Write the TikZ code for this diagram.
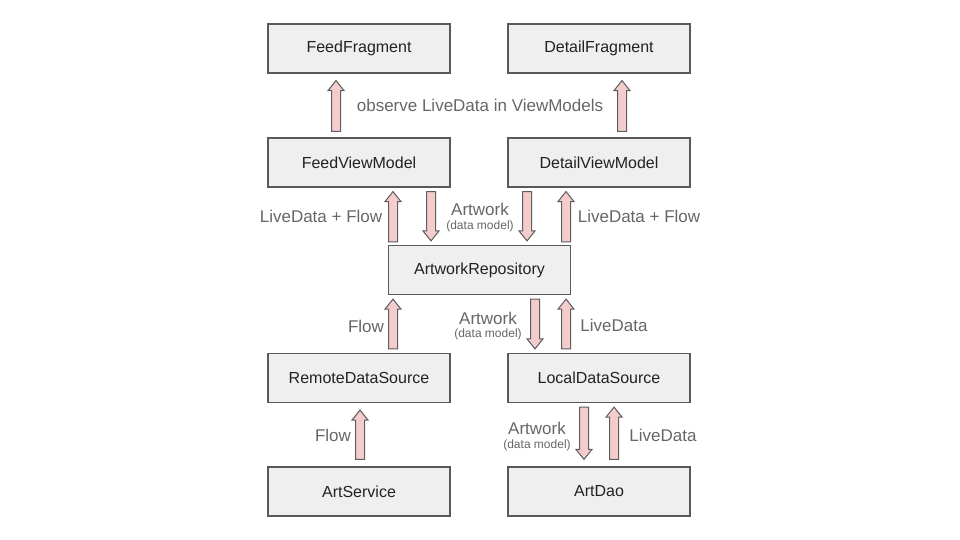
\documentclass[tikz,border=0pt]{standalone}
\usepackage{fontspec}
\setmainfont{Liberation Sans}
\usetikzlibrary{calc}
\definecolor{boxfill}{HTML}{EFEFEF}
\definecolor{boxline}{HTML}{595959}
\definecolor{boxtext}{HTML}{222222}
\definecolor{lbl}{HTML}{666666}
\definecolor{arrfill}{HTML}{F4CCCC}
\definecolor{arrline}{HTML}{5E5E5E}
\tikzset{
  box/.style={draw=boxline, line width=1.2pt, fill=boxfill, minimum width=182pt, minimum height=49pt, inner sep=0pt, text=boxtext, font=\fontsize{16}{19}\selectfont},
  lab/.style={text=lbl, inner sep=0pt, font=\fontsize{17}{20}\selectfont},
  sublab/.style={text=lbl, inner sep=0pt, font=\fontsize{12}{14}\selectfont},
  barrow/.style={draw=arrline, line width=1pt, fill=arrfill, line join=miter}
}
% #1 x, #2 tail anchor, #3 tail gap, #4 tip anchor, #5 tip gap
\newcommand\vblock[5]{%
  \draw[barrow] let \p1=(#2), \p2=(#4), \n1={sign(\y2-\y1)} in
  ({#1-4.5},{\y1+#3*\n1}) -- ({#1-4.5},{\y2-(#5+10)*\n1}) -- ({#1-8},{\y2-(#5+10)*\n1}) --
  (#1,{\y2-#5*\n1}) -- ({#1+8},{\y2-(#5+10)*\n1}) -- ({#1+4.5},{\y2-(#5+10)*\n1}) --
  ({#1+4.5},{\y1+#3*\n1}) -- cycle;}
\begin{document}
\begin{tikzpicture}[x=1pt,y=-1pt]
\useasboundingbox (0,0) rectangle (960,540);
\node[box] (ff)  at (359,48.5) {FeedFragment};
\node[box] (df)  at (599,48.5) {DetailFragment};
\node[box] (fvm) at (359,162.5) {FeedViewModel};
\node[box] (dvm) at (599,162.5) {DetailViewModel};
\node[box] (repo) at (479.5,270) {ArtworkRepository};
\node[box] (rds) at (359,378) {RemoteDataSource};
\node[box] (lds) at (599,378) {LocalDataSource};
\node[box] (as)  at (359,491.5) {ArtService};
\node[box] (dao) at (599,491.5) {ArtDao};

% fragments <- viewmodels
\vblock{336}{fvm.north}{6}{ff.south}{7}
\vblock{622}{dvm.north}{6}{df.south}{7}
% viewmodels <-> repository
\vblock{393}{repo.north}{3}{fvm.south}{4}
\vblock{431}{fvm.south}{4}{repo.north}{4}
\vblock{527}{dvm.south}{4}{repo.north}{4}
\vblock{566}{repo.north}{3}{dvm.south}{4}
% repository <-> data sources
\vblock{393}{rds.north}{4}{repo.south}{4}
\vblock{535}{repo.south}{4}{lds.north}{4}
\vblock{566}{lds.north}{4}{repo.south}{4}
% data sources <-> services
\vblock{360}{as.north}{7}{rds.south}{7}
\vblock{584}{lds.south}{4}{dao.north}{7}
\vblock{614}{dao.north}{7}{lds.south}{4}

\node[lab] (l1) at (480,105) {observe LiveData in ViewModels};
\node[lab] (l2) at (321,216) {LiveData + Flow};
\node[lab] (l3) at (639,216) {LiveData + Flow};
\node[lab] (l4) at (480,209) {Artwork};
\node[sublab] (l5) at (480,226) {(data model)};
\node[lab] (l6) at (366,326) {Flow};
\node[lab] (l7) at (488,318) {Artwork};
\node[sublab] (l8) at (488,334) {(data model)};
\node[lab] (l9) at (614,325) {LiveData};
\node[lab] (l10) at (333,435) {Flow};
\node[lab] (l11) at (537,428) {Artwork};
\node[sublab] (l12) at (537,445) {(data model)};
\node[lab] (l13) at (663,435) {LiveData};
\end{tikzpicture}
\end{document}
